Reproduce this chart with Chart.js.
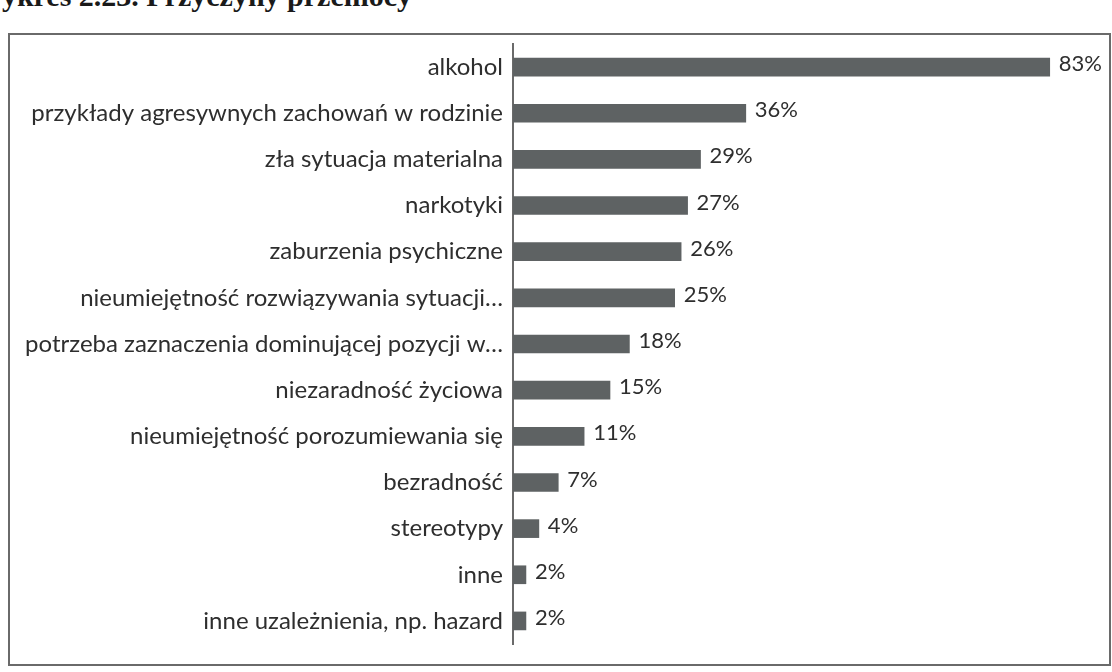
<!DOCTYPE html>
<html lang="pl">
<head>
  <meta charset="UTF-8">
  <title>Przyczyny przemocy</title>
  <script src="https://cdn.jsdelivr.net/npm/chart.js@4"></script>
  <style>
    * { margin: 0; padding: 0; box-sizing: border-box; }
    html, body { width: 1112px; height: 672px; overflow: hidden; background: #fff; }
    .title {
      position: absolute;
      left: -27px;
      top: -21px;
      font-family: 'Liberation Serif', serif;
      font-weight: bold;
      font-size: 30px;
      color: #1a1a1a;
      white-space: nowrap;
    }
    .frame {
      position: absolute;
      left: 8px;
      top: 33px;
      width: 1103px;
      height: 633px;
      border: 2px solid #6a6a6a;
    }
    .chart-box {
      position: absolute;
      left: 0;
      top: 0;
      width: 1112px;
      height: 672px;
    }
  </style>
</head>
<body>
  <div class="title">Wykres 2.23. Przyczyny przemocy</div>
  <div class="frame"></div>
  <div class="chart-box">
    <canvas id="barChart"></canvas>
  </div>

  <script>
    // dane z wykresu (%)
    const categories = [
      'alkohol',
      'przykłady agresywnych zachowań w rodzinie',
      'zła sytuacja materialna',
      'narkotyki',
      'zaburzenia psychiczne',
      'nieumiejętność rozwiązywania sytuacji…',
      'potrzeba zaznaczenia dominującej pozycji w…',
      'niezaradność życiowa',
      'nieumiejętność porozumiewania się',
      'bezradność',
      'stereotypy',
      'inne',
      'inne uzależnienia, np. hazard'
    ];
    const values = [83, 36, 29, 27, 26, 25, 18, 15, 11, 7, 4, 2, 2];
    const valueLabels = ['83%', '36%', '29%', '27%', '26%', '25%', '18%', '15%', '11%', '7%', '4%', '2%', '2%'];

    const fontFamily = "Lato, 'Open Sans', sans-serif";

    // etykiety wartości przy końcach słupków
    const valueLabelPlugin = {
      id: 'valueLabels',
      afterDatasetsDraw(chart) {
        const c = chart.ctx;
        const meta = chart.getDatasetMeta(0);
        c.save();
        c.font = '22px ' + fontFamily;
        c.fillStyle = '#2e2e2e';
        c.textBaseline = 'middle';
        c.textAlign = 'left';
        meta.data.forEach((bar, i) => {
          c.fillText(valueLabels[i], bar.x + 9, bar.y - 3);
        });
        c.restore();
      }
    };

    const ctx = document.getElementById('barChart').getContext('2d');
    new Chart(ctx, {
      type: 'bar',
      data: {
        labels: categories,
        datasets: [{
          data: values,
          backgroundColor: '#5e6263',
          borderWidth: 0,
          barThickness: 18
        }]
      },
      options: {
        indexAxis: 'y',
        responsive: true,
        maintainAspectRatio: false,
        animation: false,
        layout: { padding: { left: 0, right: 17, top: 44, bottom: 28 } },
        scales: {
          x: {
            display: false,
            min: 0,
            max: 90
          },
          y: {
            afterFit: scale => { scale.width = 513; },
            grid: { display: false, drawTicks: false },
            border: { display: true, color: '#6a6a6a', width: 2 },
            ticks: {
              color: '#2e2e2e',
              padding: 10,
              font: { family: fontFamily, size: 24 }
            }
          }
        },
        plugins: {
          legend: { display: false },
          tooltip: { enabled: false }
        }
      },
      plugins: [valueLabelPlugin]
    });
  </script>
</body>
</html>
